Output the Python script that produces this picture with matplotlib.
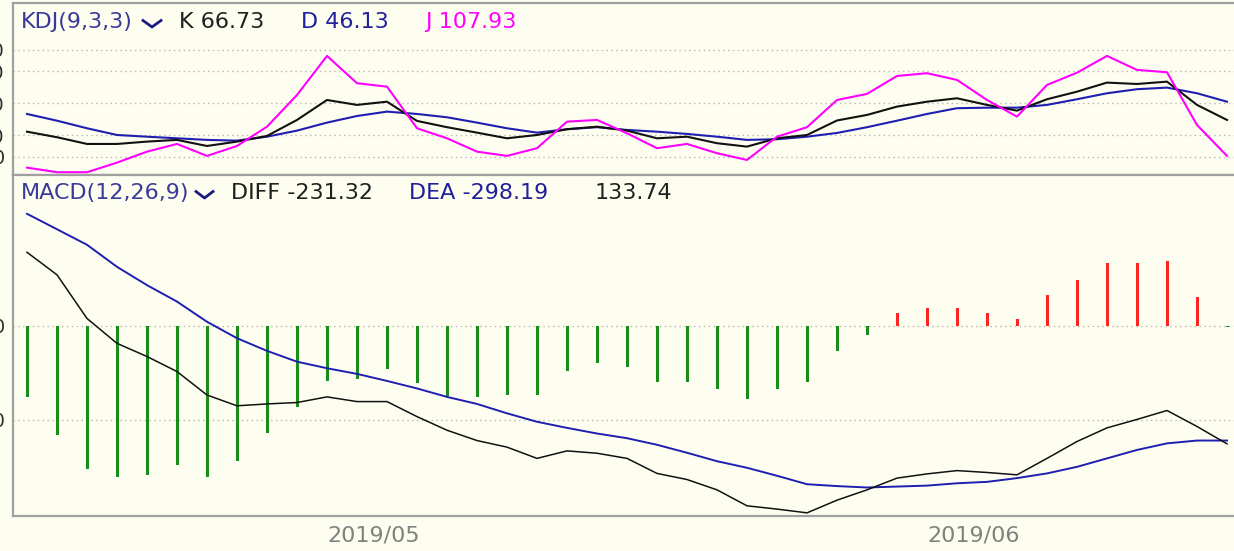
import matplotlib.pyplot as plt
from matplotlib.lines import Line2D

# KDJ(9,3,3) values, one per trading day
k_vals = [23.4, 18.2, 11.9, 11.9, 14.1, 15.7, 10.0, 14.1, 19.4, 34.4,
          53.1, 48.5, 51.5, 33.5, 27.6, 22.5, 17.2, 20.3, 25.7, 28.1,
          24.4, 17.2, 18.7, 12.6, 9.4, 17.2, 20.3, 33.9, 39.1, 46.9,
          51.5, 54.7, 48.5, 43.1, 53.8, 60.9, 69.4, 68.1, 70.3, 48.5, 34.4]
d_vals = [40.0, 33.7, 26.6, 20.3, 18.7, 17.2, 15.7, 15.0, 18.7, 24.4,
          31.9, 38.1, 42.2, 40.0, 36.9, 31.9, 26.6, 22.5, 25.7, 27.6,
          25.0, 23.4, 21.3, 18.7, 15.7, 16.3, 18.7, 22.2, 27.6, 33.7,
          40.0, 45.4, 45.9, 45.9, 48.5, 53.8, 59.4, 63.2, 64.7, 59.4, 51.5]
j_vals = [-10.3, -14.6, -14.6, -5.6, 4.7, 11.9, 0.7, 10.0, 28.1, 57.8,
          94.4, 68.8, 65.6, 26.6, 17.2, 4.7, 0.7, 7.9, 32.8, 34.4,
          21.9, 7.9, 11.9, 3.2, -3.1, 18.7, 27.6, 53.1, 58.8, 75.6,
          78.2, 71.9, 53.1, 37.5, 67.2, 78.7, 94.4, 81.3, 79.1, 29.7, 0.7]

# MACD(12,26,9)
diff_vals = [157, 109, 16, -37, -65, -97, -147, -170, -166, -163,
             -151, -161, -161, -193, -222, -244, -258, -282, -266, -271,
             -282, -314, -327, -349, -383, -390, -398, -371, -349, -324,
             -315, -308, -312, -317, -282, -246, -217, -199, -180, -214, -251]
dea_vals = [239, 206, 173, 126, 87, 52, 9, -26, -53, -76,
            -90, -102, -117, -133, -151, -166, -186, -204, -217, -229,
            -239, -253, -270, -288, -302, -319, -337, -341, -344, -342,
            -340, -335, -332, -324, -314, -300, -282, -264, -250, -244, -244]
macd_vals = [-151, -232, -305, -321, -317, -296, -321, -288, -227, -172,
             -117, -113, -92, -121, -149, -152, -147, -147, -96, -79,
             -87, -119, -119, -135, -156, -135, -119, -53, -19, 27,
             39, 39, 27, 14, 65, 99, 134, 134, 138, 61, -2]

kdj_ticks = [0, 20, 50, 80, 100]
macd_ticks = [-200, 0]
date_pos = [10, 30]
date_labels = ['2019/05', '2019/06']

W, H = 1234, 551
bg = '#fefef0'
frame = '#a0a0a0'
grid = '#b4b4b4'

fig = plt.figure(figsize=(W / 100, H / 100), dpi=100, facecolor=bg)


def rect(x0, y0, x1, y1):
    return [x0 / W, 1 - y1 / H, (x1 - x0) / W, (y1 - y0) / H]


x = list(range(len(k_vals)))
xlim = (-14 / 30, -14 / 30 + 1227 / 30)

ax1 = fig.add_axes(rect(13, 3, 1240, 175))
ax2 = fig.add_axes(rect(13, 175, 1240, 516))

for ax in (ax1, ax2):
    ax.set_facecolor(bg)
    ax.set_xlim(*xlim)
    for s in ('left', 'top', 'bottom'):
        ax.spines[s].set_color(frame)
        ax.spines[s].set_linewidth(1.6)
    ax.spines['right'].set_visible(False)
    ax.tick_params(axis='y', length=0, pad=6, labelsize=14, labelcolor='#303030')
    ax.tick_params(axis='x', length=0)

# KDJ panel
ax1.set_ylim(-17.2, 144.0)
for v in kdj_ticks:
    ax1.axhline(v, color=grid, lw=1.0, dashes=(1, 2.5), zorder=0)
ax1.set_yticks(kdj_ticks, [str(v) for v in kdj_ticks])
ax1.set_xticks([])
ax1.plot(x, d_vals, color='#1e1eb0', lw=1.5)
ax1.plot(x, k_vals, color='#111111', lw=1.5)
ax1.plot(x, j_vals, color='#ff00ff', lw=1.5)

# MACD panel
ax2.set_ylim(-404.7, 321.6)
for v in macd_ticks:
    ax2.axhline(v, color=grid, lw=1.0, dashes=(1, 2.5), zorder=0)
ax2.set_yticks(macd_ticks, [str(v) for v in macd_ticks])
bar_colors = ['#ff2424' if v > 0 else '#1a8c1a' for v in macd_vals]
ax2.bar(x, macd_vals, width=0.1, color=bar_colors, zorder=2)
ax2.plot(x, dea_vals, color='#1e1eb0', lw=1.4, zorder=3)
ax2.plot(x, diff_vals, color='#111111', lw=1.1, zorder=3)
ax2.set_xticks(date_pos, date_labels)
ax2.tick_params(axis='x', pad=7, labelsize=16, labelcolor='#808080')
for lab in ax2.get_xticklabels():
    lab.set_horizontalalignment('left')


def ftext(px, py, s, color, size=16):
    fig.text(px / W, 1 - py / H, s, color=color, fontsize=size, ha='left', va='center')


def chevron(x0, y0, x1, y1):
    xm = (x0 + x1) / 2
    fig.add_artist(Line2D([x0 / W, xm / W, x1 / W], [1 - y0 / H, 1 - y1 / H, 1 - y0 / H],
                          color='#1a1a80', lw=2.0, transform=fig.transFigure))


ftext(21, 22, 'KDJ(9,3,3)', '#3a3a9a')
chevron(143, 20.5, 161, 27)
ftext(179, 22, 'K 66.73', '#202020')
ftext(301, 22, 'D 46.13', '#20209a')
ftext(425, 22, 'J 107.93', '#ff00ff')

ftext(21, 193, 'MACD(12,26,9)', '#3a3a9a')
chevron(196, 191.5, 213, 198)
ftext(231, 193, 'DIFF -231.32', '#202020')
ftext(409, 193, 'DEA -298.19', '#20209a')
ftext(595, 193, '133.74', '#202020')

fig.savefig('out.png', dpi=100, facecolor=bg)
